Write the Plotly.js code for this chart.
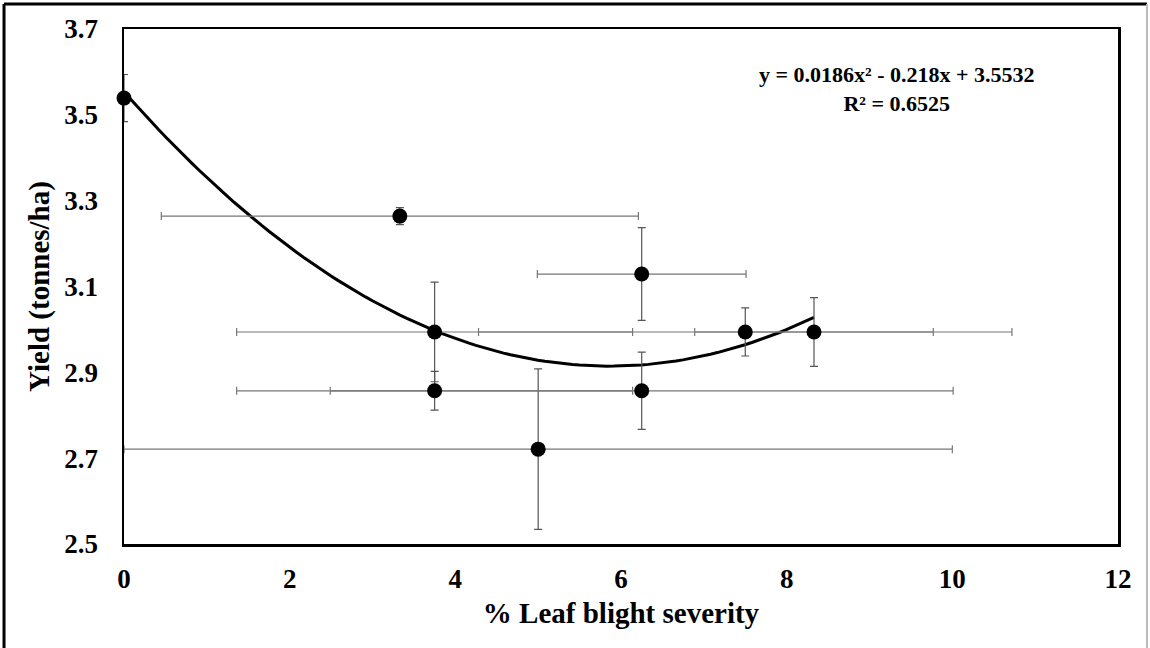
<!DOCTYPE html>
<html>
<head>
<meta charset="utf-8">
<script src="https://cdn.plot.ly/plotly-3.0.1.min.js"></script>
<style>html,body{margin:0;padding:0;background:#fff;}#chart{width:1150px;height:648px;}</style>
</head>
<body>
<div id="chart"></div>
<script>
// Data
var severity = [0, 3.33, 3.75, 3.75, 5.0, 6.25, 6.25, 7.5, 8.33];
var yieldVals = [3.539, 3.264, 2.994, 2.857, 2.721, 3.129, 2.857, 2.994, 2.994];
var severityErr = [0, 2.88, 2.39, 2.39, 5.0, 1.26, 3.76, 3.22, 1.44];
var yieldErr = [0.055, 0.02, 0.116, 0.045, 0.187, 0.108, 0.09, 0.056, 0.08];
// Polynomial trendline coefficients as printed on the chart (a, b, c for ax^2 + bx + c)
var trendCoef = [0.0186, -0.218, 3.5532];
var trendRange = [0, 8.33];
var equationText = "y = 0.0186x² - 0.218x + 3.5532";
var r2Text = "R² = 0.6525";
var xTickVals = [0, 2, 4, 6, 8, 10, 12];
var yTickVals = [2.5, 2.7, 2.9, 3.1, 3.3, 3.5, 3.7];

var tx = [], ty = [];
var nSteps = 100;
for (var i = 0; i <= nSteps; i++) {
  var x = trendRange[0] + (trendRange[1] - trendRange[0]) * i / nSteps;
  tx.push(x);
  ty.push(trendCoef[0] * x * x + trendCoef[1] * x + trendCoef[2]);
}

var fontFam = '"Liberation Serif", "Times New Roman", serif';

var traces = [
  {
    x: tx, y: ty, type: 'scatter', mode: 'lines',
    line: {color: '#000', width: 3}, hoverinfo: 'skip', showlegend: false
  },
  {
    x: severity, y: yieldVals, type: 'scatter', mode: 'markers',
    marker: {color: '#000', size: 15},
    error_x: {type: 'data', array: severityErr, visible: true, color: '#777', thickness: 1.2, width: 4},
    error_y: {type: 'data', array: yieldErr, visible: true, color: '#555', thickness: 1.2, width: 4},
    cliponaxis: false, showlegend: false
  }
];

var layout = {
  width: 1150, height: 648,
  margin: {l: 124, r: 32, t: 29, b: 104},
  paper_bgcolor: '#fff', plot_bgcolor: '#fff',
  font: {family: fontFam, color: '#000'},
  showlegend: false,
  xaxis: {
    range: [0, 12], tickvals: xTickVals, ticks: '', showgrid: false, zeroline: false,
    showline: true, mirror: true, linecolor: '#000', linewidth: 2.5,
    tickfont: {family: fontFam, size: 27, weight: 'bold', color: '#000'},
    ticklabelstandoff: 9,
    title: {text: '% Leaf blight severity', font: {family: fontFam, size: 29, weight: 'bold', color: '#000'}, standoff: 10},
    automargin: false
  },
  yaxis: {
    range: [2.5, 3.7], tickvals: yTickVals, tickformat: '.1f', ticks: '', showgrid: false, zeroline: false,
    showline: true, mirror: true, linecolor: '#000', linewidth: 2.5,
    tickfont: {family: fontFam, size: 27, weight: 'bold', color: '#000'},
    ticklabelstandoff: 18,
    title: {text: 'Yield (tonnes/ha)', font: {family: fontFam, size: 29, weight: 'bold', color: '#000'}, standoff: 6},
    automargin: false
  },
  annotations: [
    {
      xref: 'paper', yref: 'paper', x: 0.778, y: 0.883, xanchor: 'center', yanchor: 'middle',
      text: equationText + '<br>' + r2Text, showarrow: false, align: 'center',
      font: {family: fontFam, size: 22, weight: 'bold', color: '#000'}
    }
  ],
  shapes: [
    {type: 'line', xref: 'paper', yref: 'paper', x0: -0.1207, x1: 1.0292, y0: 1.0485, y1: 1.0485, line: {color: '#000', width: 3}},
    {type: 'line', xref: 'paper', yref: 'paper', x0: -0.1207, x1: -0.1207, y0: 1.0485, y1: -0.25, line: {color: '#000', width: 3}},
    {type: 'line', xref: 'paper', yref: 'paper', x0: 1.0292, x1: 1.0292, y0: 1.0485, y1: -0.25, line: {color: '#bbb', width: 2}}
  ]
};

Plotly.newPlot('chart', traces, layout, {displayModeBar: false, staticPlot: true});
</script>
</body>
</html>
